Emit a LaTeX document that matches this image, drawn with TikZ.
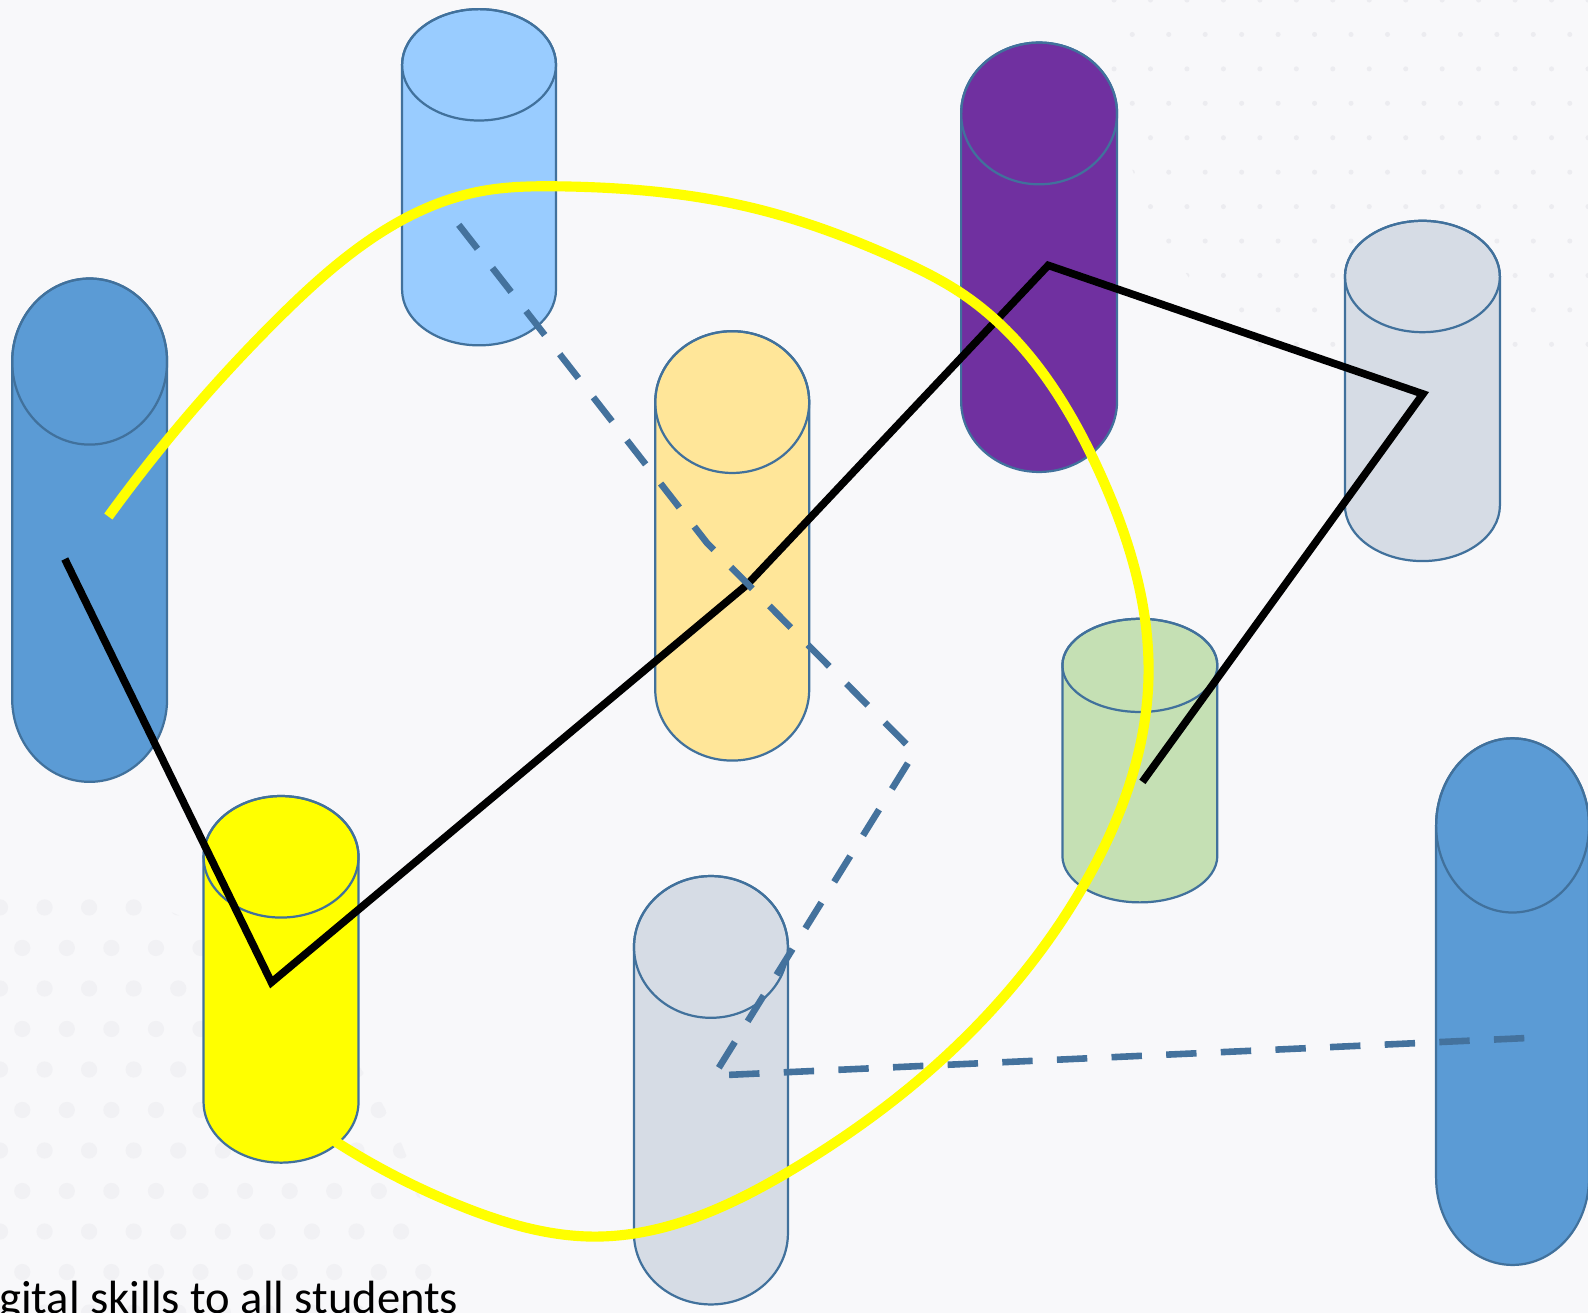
\documentclass[tikz,border=0pt]{standalone}
\usepackage{fontspec}
\setmainfont{Carlito}
\usetikzlibrary{hobby}
\definecolor{bg}{HTML}{F8F8FA}
\definecolor{dotc}{HTML}{F1F1F4}
\definecolor{dotd}{HTML}{ECECF0}
\definecolor{outl}{HTML}{41719C}
\definecolor{dashc}{HTML}{44729D}
\definecolor{lblue}{HTML}{99CCFF}
\definecolor{purp}{HTML}{7030A0}
\definecolor{lgray}{HTML}{D6DCE5}
\definecolor{mblue}{HTML}{5B9BD5}
\definecolor{tan}{HTML}{FFE699}
\definecolor{lgreen}{HTML}{C5E0B4}
\definecolor{yel}{HTML}{FFFF00}
\newcommand\drawcyl[7]{% name, fill, cx, rx, top cy, bottom cy, ry
  \path[cylout, fill=#2] ({#3-#4},-#5) -- ({#3-#4},-#6)
    arc[start angle=180,end angle=360,x radius=#4,y radius=#7]
    -- ({#3+#4},-#5)
    arc[start angle=0,end angle=180,x radius=#4,y radius=#7] -- cycle;
  \draw[cylout] (#3,-#5) ellipse[x radius=#4,y radius=#7];
  \coordinate (#1) at (#3,-#5);
}
\begin{document}
\begin{tikzpicture}[x=1pt,y=1pt,
  cylout/.style={draw=outl, line width=2.2pt},
  blackline/.style={line width=7.5pt, draw=black, line join=miter},
  dashline/.style={line width=6.5pt, draw=dashc, dash pattern=on 30pt off 24pt, line join=miter},
  yelline/.style={line width=10pt, draw=yel},
  caption/.style={font=\fontsize{46}{52}\selectfont, anchor=base west, inner sep=0pt}]
\useasboundingbox (0,0) rectangle (1568,-1296);
\clip (0,0) rectangle (1568,-1296);
\fill[bg] (0,0) rectangle (1568,-1296);

% faint background pattern
\begin{scope}
  \clip (0,-1296) circle (430);
  \foreach \i in {0,...,10} {
    \foreach \j in {0,...,10} {
      \fill[dotc] ({\i*44+mod(\j,2)*22},{-1296+\j*40}) circle (8);
    }
  }
\end{scope}
\begin{scope}
  \clip (1568,0) circle (480);
  \foreach \i in {0,...,14} {
    \foreach \j in {0,...,10} {
      \fill[dotd] ({1568-\i*36-mod(\j,2)*18},{-\j*34}) circle (2.5);
    }
  }
\end{scope}

% cylinders
\drawcyl{cA}{lblue}{473}{76}{64}{286}{55}
\drawcyl{cB}{purp}{1026}{77}{112}{396}{70}
\drawcyl{cC}{lgray}{1404.5}{76.5}{273}{499}{55}
\drawcyl{cD}{mblue}{88.5}{76.5}{357}{690}{82}
\drawcyl{cE}{tan}{723}{76}{397}{681}{70}
\drawcyl{cF}{lgreen}{1125.5}{76.5}{657}{845}{46}
\drawcyl{cG}{yel}{277.5}{76.5}{846}{1088}{60}
\drawcyl{cH}{lgray}{702}{76}{935}{1218}{70}
\drawcyl{cI}{mblue}{1493.5}{75.5}{815}{1163}{86}

% black polyline
\coordinate (b1) at (64,-552);
\coordinate (b2) at (268,-970);
\coordinate (b3) at (738,-577);
\coordinate (b4) at (1035,-262);
\coordinate (b5) at (1405,-389);
\coordinate (b6) at (1128,-772);
\draw[blackline] (b1) -- (b2) -- (b3) -- (b4) -- (b5) -- (b6);

% dashed polyline
\coordinate (d1) at (453,-222);
\coordinate (d2) at (698,-536);
\coordinate (d3) at (903,-743);
\coordinate (d4) at (705,-1062);
\coordinate (d5) at (1528,-1024);
\draw[dashline] (d1) -- (d2) -- (d3) -- (d4) -- (d5);

% yellow curve
\coordinate (y0) at (107,-510);
\coordinate (y1) at (331,-1127);
\draw[yelline, use Hobby shortcut] (y0) .. (276,-313) .. (474,-189) .. (553,-184)
  .. (750,-207) .. (882,-254) .. (950,-290) .. (1086,-467) .. (1134,-670)
  .. (1069,-876) .. (918,-1057) .. (782,-1155) .. (587,-1221) .. (458,-1192) .. (y1);

\node[caption] (cap) at (-1,-1297) {gital skills to all students};
\end{tikzpicture}
\end{document}
